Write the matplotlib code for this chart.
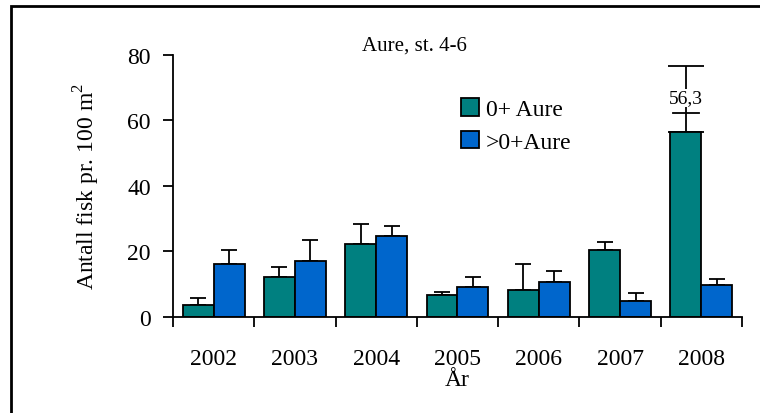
import numpy as np
import matplotlib.pyplot as plt
from matplotlib.patches import Rectangle

plt.rcParams['font.family'] = ['Liberation Serif', 'DejaVu Serif']

# --- data ---
years = ['2002', '2003', '2004', '2005', '2006', '2007', '2008']
aure_0 = [3.8, 12.1, 22.4, 6.7, 8.2, 20.5, 56.3]
aure_0_err = [2.0, 3.0, 5.9, 0.9, 7.9, 2.4, 20.3]
aure_eldre = [16.1, 17.1, 24.8, 9.2, 10.7, 4.8, 9.7]
aure_eldre_err = [4.4, 6.3, 3.0, 2.9, 3.3, 2.4, 2.0]

green = '#008080'
blue = '#0066CC'

fig = plt.figure(figsize=(7.6, 4.14), dpi=100)
ax = fig.add_axes([0.2276, 0.2319, 0.7487, 0.6336])

x = np.arange(len(years))
w = 0.38
ax.bar(x - w / 2, aure_0, w, color=green, edgecolor='black', linewidth=1.3,
       label='0+ Aure', zorder=2)
ax.bar(x + w / 2, aure_eldre, w, color=blue, edgecolor='black', linewidth=1.3,
       label='>0+Aure', zorder=2)

# upward-only error bars
ax.errorbar(x[:-1] - w / 2, aure_0[:-1], yerr=[np.zeros(6), aure_0_err[:-1]],
            fmt='none', ecolor='black', elinewidth=1.3, capsize=6, capthick=1.3, zorder=1)
ax.errorbar(x[-1:] - w / 2, aure_0[-1:], yerr=[[0], aure_0_err[-1:]],
            fmt='none', ecolor='black', elinewidth=1.3, capsize=13, capthick=1.3, zorder=1)
ax.errorbar(x + w / 2, aure_eldre, yerr=[np.zeros(7), aure_eldre_err],
            fmt='none', ecolor='black', elinewidth=1.3, capsize=6, capthick=1.3, zorder=1)

# value label for the tall 2008 bar
ax.text(x[-1] - w / 2, 66.8, '56,3', ha='center', va='center', fontsize=14,
        bbox=dict(facecolor='white', edgecolor='none', pad=0.5), zorder=3)
ax.plot([x[-1] - w / 2 - 0.16, x[-1] - w / 2 + 0.16], [62.1, 62.1], color='black', lw=1.3, zorder=4)

ax.set_xlim(-0.5, len(years) - 0.5)
ax.set_ylim(0, 80)
ax.set_yticks([0, 20, 40, 60, 80])
ax.set_xticks(x)
ax.set_xticklabels(years, fontsize=17)
ax.set_xticks(np.arange(-0.5, len(years)), minor=True)
ax.tick_params(axis='x', which='major', length=0, pad=22)
ax.tick_params(axis='x', which='minor', length=7, width=1.3, direction='out')
ax.tick_params(axis='y', labelsize=17, length=7, width=1.3, direction='out', pad=9)

for s in ['top', 'right']:
    ax.spines[s].set_visible(False)
for s in ['left', 'bottom']:
    ax.spines[s].set_linewidth(1.3)

ax.set_xlabel('År', fontsize=17, labelpad=0)
ax.set_ylabel('Antall fisk pr. 100 m$^{\\mathregular{2}}$', fontsize=17, labelpad=18)
ax.text(0.425, 1.037, 'Aure, st. 4-6', transform=ax.transAxes, ha='center', va='center',
        fontsize=15)

ax.legend(loc='upper left', bbox_to_anchor=(0.49, 0.87), frameon=False, fontsize=17,
          handlelength=0.75, handleheight=0.75, handletextpad=0.3, labelspacing=0.45,
          borderaxespad=0)

# frame around the figure (only top and left visible)
fig.patches.append(Rectangle((11 / 760, -0.1), 1.2, 1 - 7 / 414 + 0.1, transform=fig.transFigure,
                             fill=False, edgecolor='black', linewidth=2, zorder=10))

fig.savefig('out.png', dpi=100)
